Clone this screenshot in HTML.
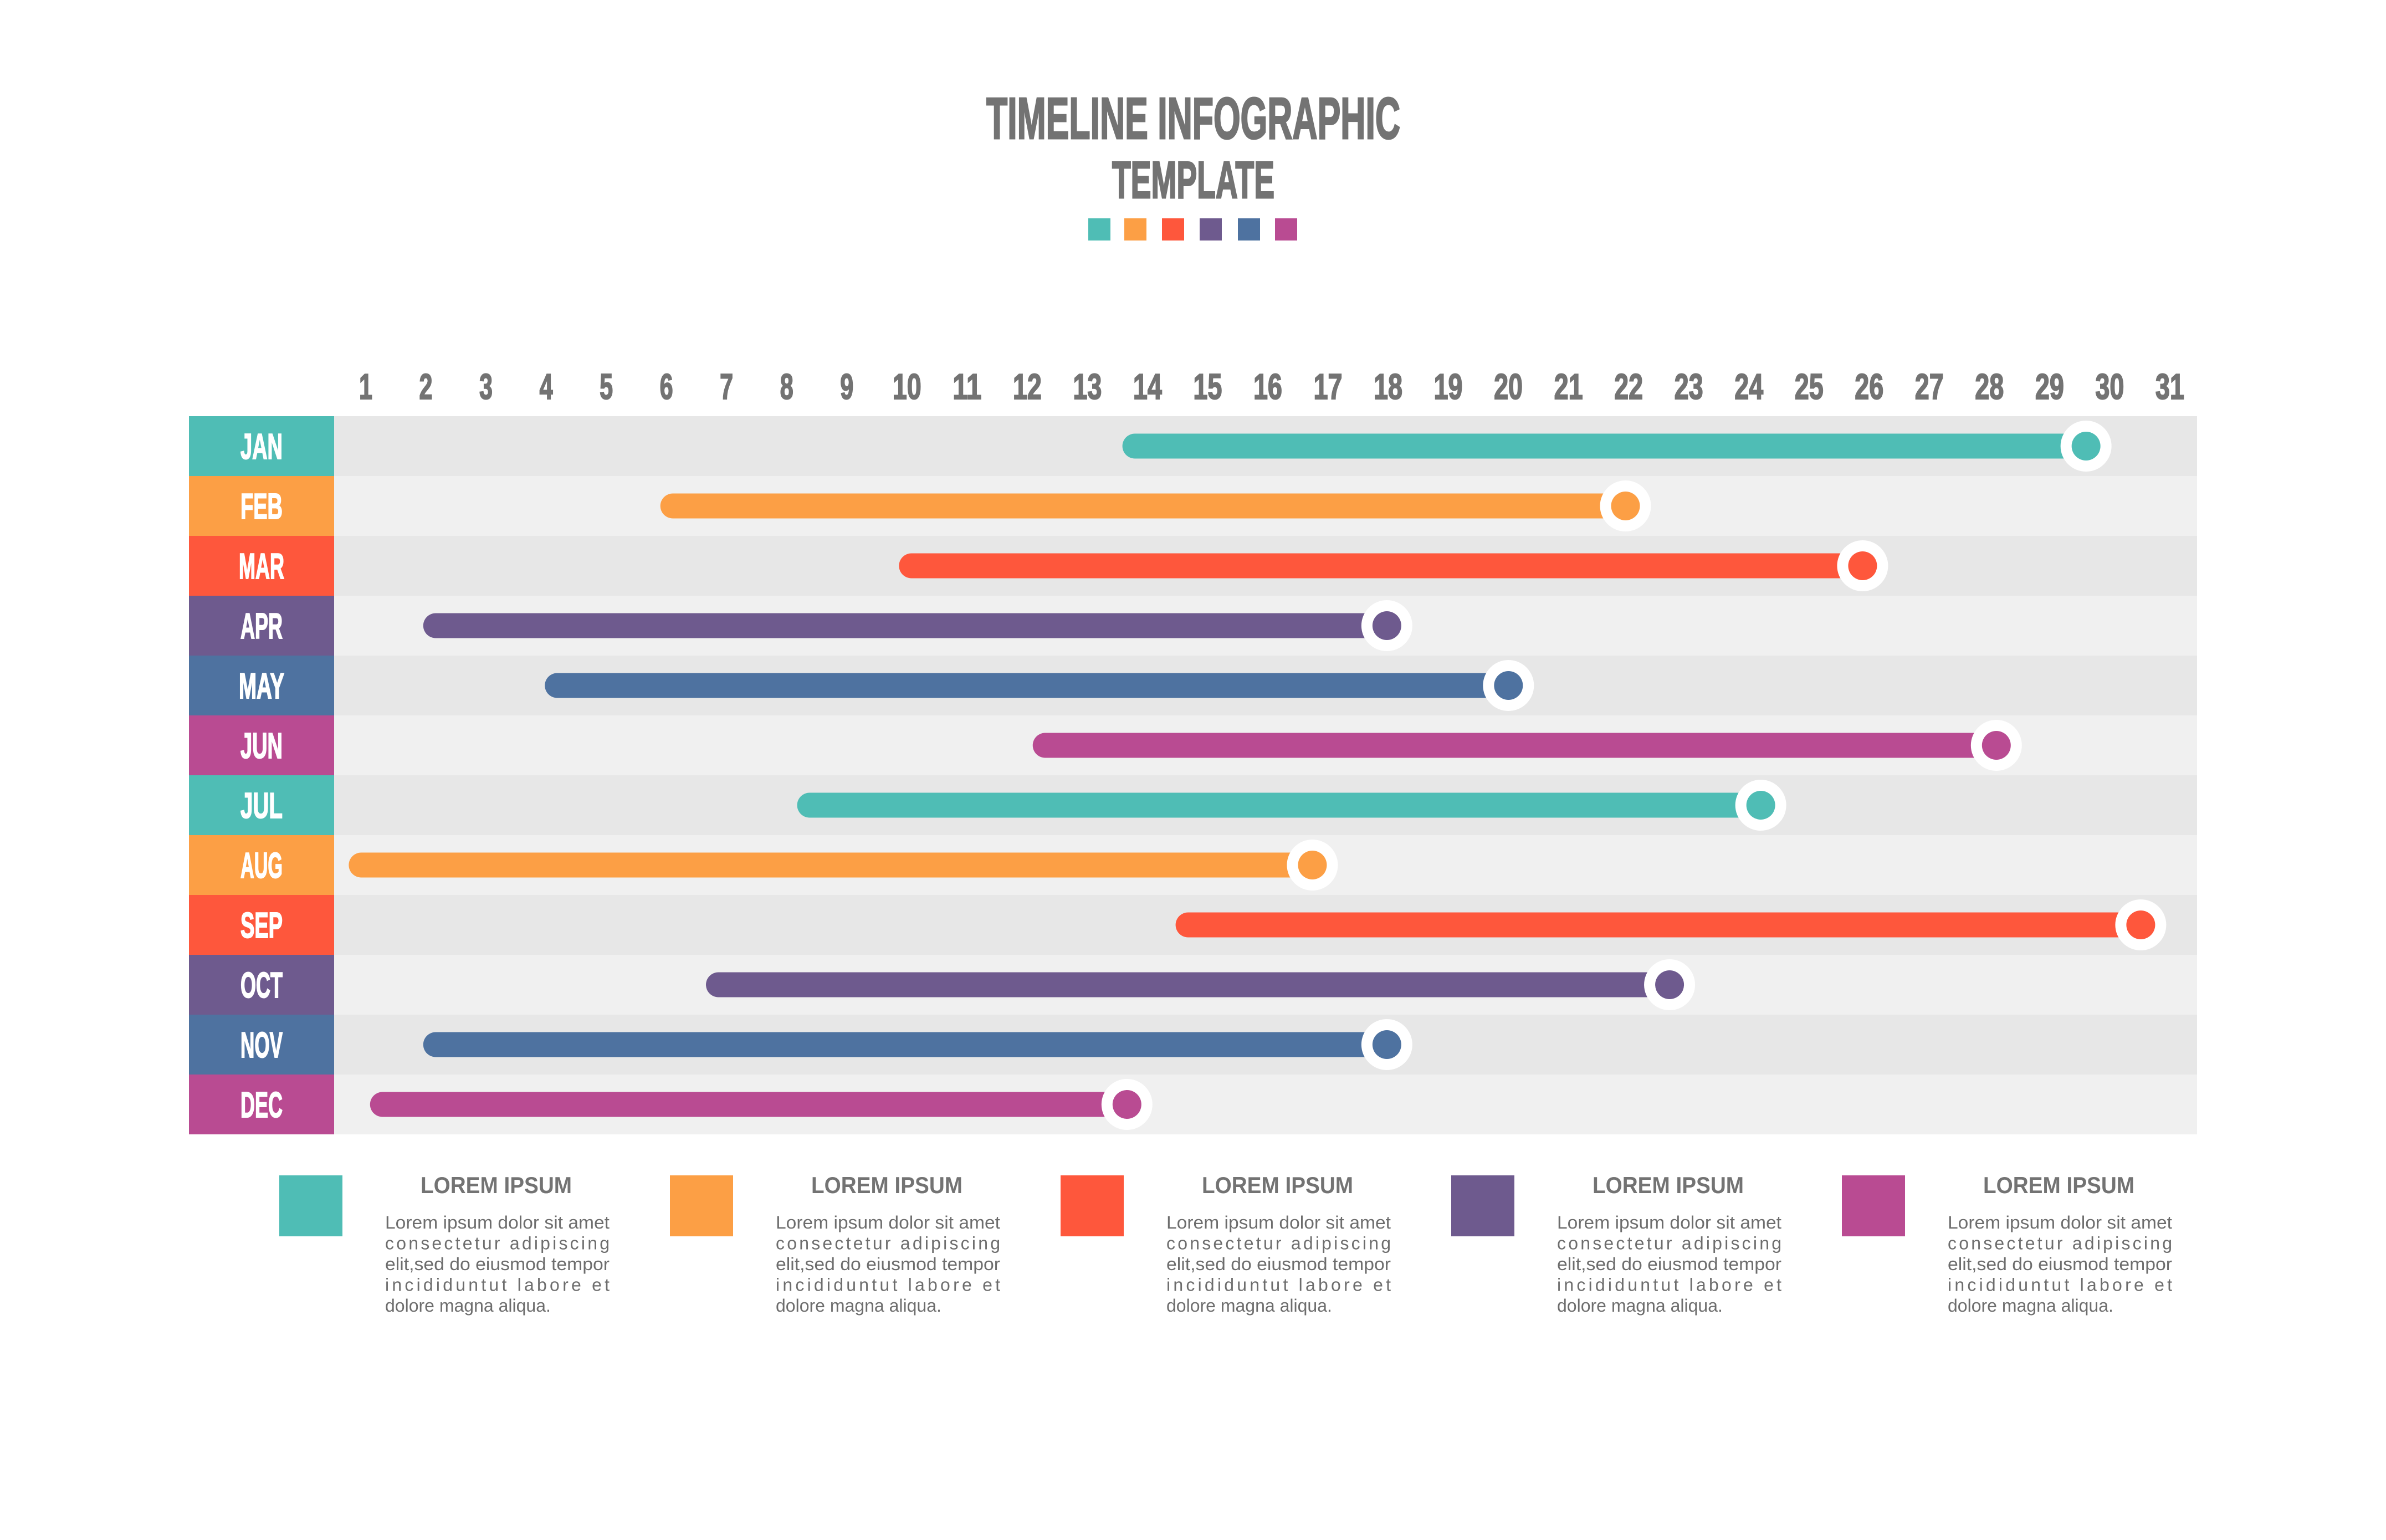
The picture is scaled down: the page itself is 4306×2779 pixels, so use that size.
<!DOCTYPE html>
<html><head><meta charset="utf-8"><style>html,body{margin:0;padding:0;background:#fff}svg{display:block}</style></head>
<body>
<svg xmlns="http://www.w3.org/2000/svg" width="4306" height="2779" viewBox="0 0 4306 2779">
<rect width="4306" height="2779" fill="#fff"/>
<g font-family="Liberation Sans, sans-serif" font-weight="bold" fill="#737373" stroke="#737373" stroke-width="3">
<text x="1780" y="250" font-size="106" textLength="747" lengthAdjust="spacingAndGlyphs">TIMELINE INFOGRAPHIC</text>
<text x="2007" y="357" font-size="94" textLength="293" lengthAdjust="spacingAndGlyphs">TEMPLATE</text>
</g>
<rect x="1964" y="394" width="40" height="40" fill="#4fbdb5"/>
<rect x="2029" y="394" width="40" height="40" fill="#fc9f45"/>
<rect x="2097" y="394" width="40" height="40" fill="#fe573c"/>
<rect x="2165" y="394" width="40" height="40" fill="#6e5a8e"/>
<rect x="2234" y="394" width="40" height="40" fill="#4e72a0"/>
<rect x="2301" y="394" width="40" height="40" fill="#b94b92"/>
<g id="nums" font-family="Liberation Sans, sans-serif" font-weight="bold" fill="#737373" stroke="#737373" stroke-width="2" font-size="65" text-anchor="middle"></g>
<g id="rows"></g>
<g id="legend"></g>
<script>
(function(){
var NS="http://www.w3.org/2000/svg";
function el(p,t,a,txt){var e=document.createElementNS(NS,t);for(var k in a)e.setAttribute(k,a[k]);if(txt!=null)e.textContent=txt;p.appendChild(e);return e;}
var nums=document.getElementById('nums');
for(var d=1;d<=31;d++){var cx=660+(d-1)*108.53;el(nums,'text',{x:cx,y:720,textLength:d<10?24:52,lengthAdjust:'spacingAndGlyphs'},String(d));}
var cols=['#4fbdb5','#fc9f45','#fe573c','#6e5a8e','#4e72a0','#b94b92'];
var mon=['JAN','FEB','MAR','APR','MAY','JUN','JUL','AUG','SEP','OCT','NOV','DEC'];
var st=[737,433,590,277,357,678,523,228,772,463,277,242];
var en=[1371,1068,1224,911,991,1312,1157,862,1407,1097,911,740];
var rows=document.getElementById('rows');
var top=751,h=108;
for(var i=0;i<12;i++){
 var y=top+i*h,c=cols[i%6],cy=y+h/2;
 el(rows,'rect',{x:603,y:y,width:3362,height:h,fill:i%2?'#f0f0f0':'#e7e7e7'});
 el(rows,'rect',{x:341,y:y,width:262,height:h,fill:c});
 el(rows,'text',{x:472,y:cy+23,'font-family':'Liberation Sans, sans-serif','font-weight':'bold','font-size':'65',fill:'#fff',stroke:'#fff','stroke-width':'2','text-anchor':'middle',textLength:mon[i]=='MAR'||mon[i]=='MAY'?82:76,lengthAdjust:'spacingAndGlyphs'},mon[i]);
 var x1=st[i]*2.743+4,x2=en[i]*2.743+4;
 el(rows,'rect',{x:x1,y:cy-22.5,width:x2-x1,height:45,rx:22.5,fill:c});
 el(rows,'circle',{cx:x2,cy:cy,r:46,fill:'#fff'});
 el(rows,'circle',{cx:x2,cy:cy,r:26,fill:c});
}
var lg=document.getElementById('legend');
var lcols=['#4fbdb5','#fc9f45','#fe573c','#6e5a8e','#b94b92'];
var lines=['Lorem ipsum dolor sit amet','consectetur adipiscing','elit,sed do eiusmod tempor','incididuntut labore et','dolore magna aliqua.'];
for(var g=0;g<5;g++){
 var ox=g*705;
 el(lg,'rect',{x:504+ox,y:2121,width:114,height:110,fill:lcols[g]});
 el(lg,'text',{x:759+ox,y:2153,'font-family':'Liberation Sans, sans-serif','font-weight':'bold','font-size':'42',fill:'#737373',textLength:273,lengthAdjust:'spacingAndGlyphs'},'LOREM IPSUM');
 for(var l=0;l<5;l++){
  var a={x:695+ox,y:2217+l*37.5,'font-family':'Liberation Sans, sans-serif','font-size':'32',fill:'#6d6d6d'};
  if(l<4){a.textLength=405;a.lengthAdjust=(l==0||l==2)?'spacingAndGlyphs':'spacing';}
  el(lg,'text',a,lines[l]);
 }
}
})();
</script>
</svg>
</body></html>
